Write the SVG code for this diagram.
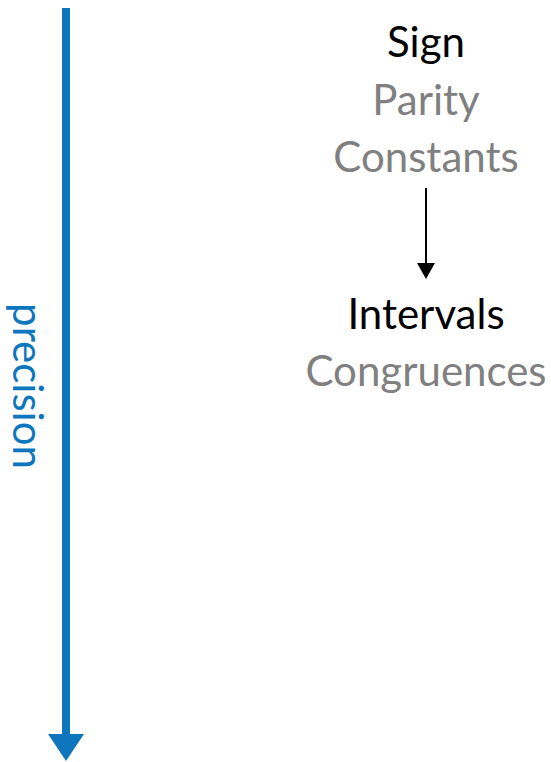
<svg xmlns="http://www.w3.org/2000/svg" width="551" height="762" viewBox="0 0 551 762">
<style>
text{font-family:Lato,"Open Sans","Liberation Sans",sans-serif;font-size:42px;text-anchor:middle}
.k{fill:#000}
.g{fill:#808080}
.b{fill:#0e76bc}
</style>
<rect width="551" height="762" fill="#fff"/>
<g id="connectors">
<line x1="66" y1="8" x2="66" y2="736" stroke="#0e76bc" stroke-width="8"/>
<polygon points="48,734 84,734 66,761" fill="#0e76bc"/>
<line x1="426" y1="188" x2="426" y2="266" stroke="#000" stroke-width="2"/>
<polygon points="417,263 435,263 426,279" fill="#000"/>
</g>
<g id="precision"><text class="b" transform="translate(13,386) rotate(90)">precision</text></g>
<g id="top">
<text class="k" x="426" y="57">Sign</text>
<text class="g" x="426" y="115">Parity</text>
<text class="g" x="426" y="172">Constants</text>
</g>
<g id="bottom">
<text class="k" x="426" y="329">Intervals</text>
<text class="g" x="426" y="386">Congruences</text>
</g>
</svg>
